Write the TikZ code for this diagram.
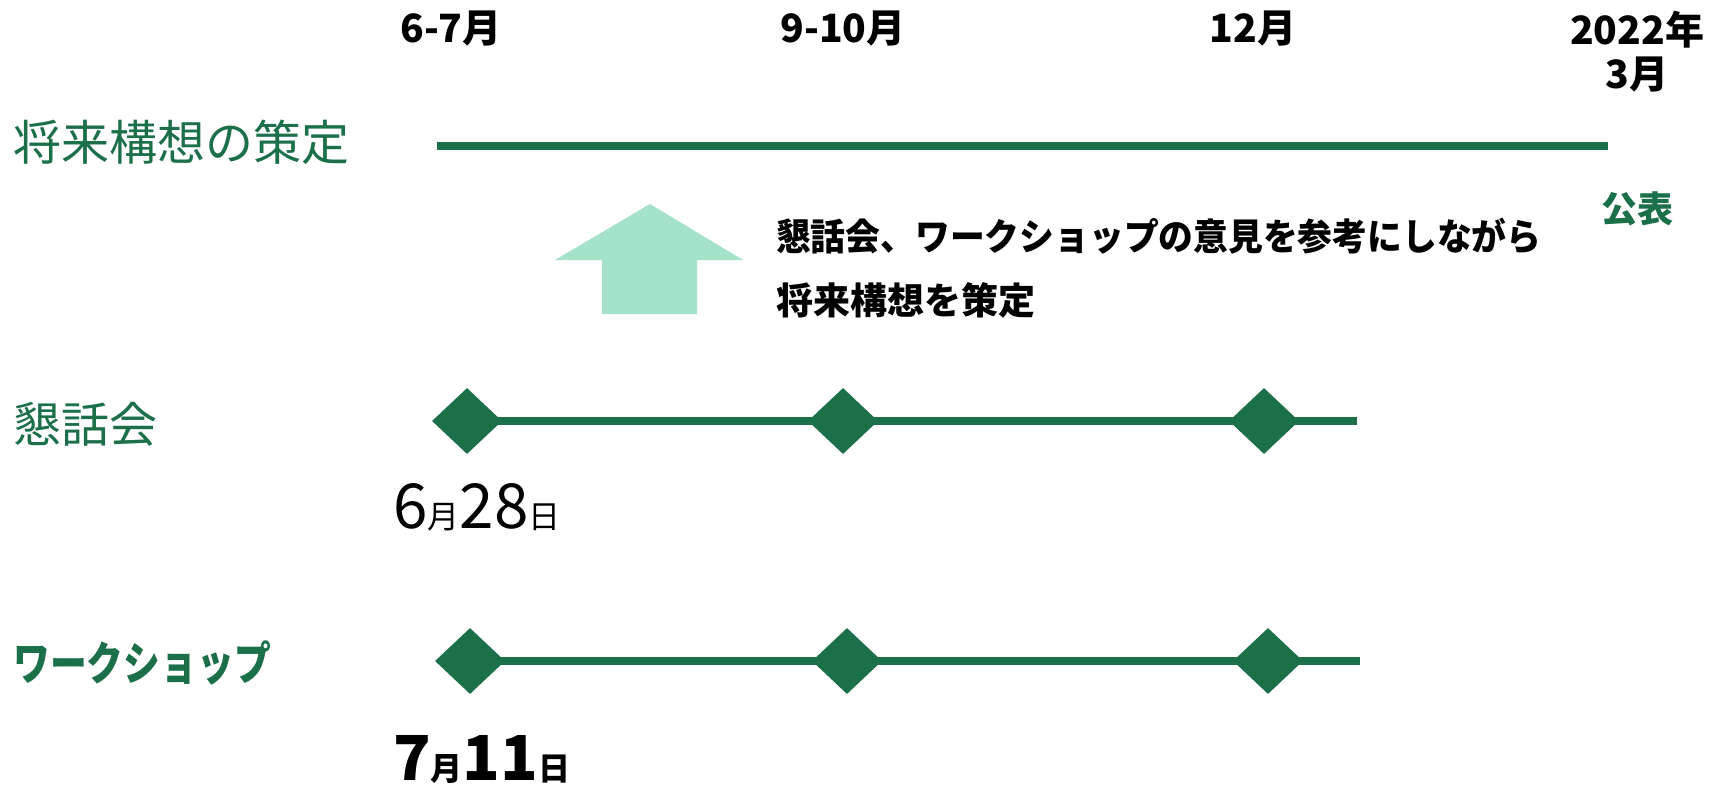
\documentclass[tikz,border=0pt]{standalone}
\usepackage{fontspec}
\usetikzlibrary{shapes.geometric}
\newfontfamily\jp{Noto Sans CJK JP}
\definecolor{gr}{RGB}{27,112,74}
\definecolor{lg}{RGB}{165,226,202}
\newcommand{\fs}[1]{\fontsize{#1pt}{#1pt}\selectfont}
\begin{document}
\begin{tikzpicture}[x=1pt,y=-1pt,
  gline/.style={draw=gr, line width=8pt},
  milestone/.style={diamond, fill=gr, inner sep=0pt, minimum width=70pt, minimum height=66pt},
  month/.style={inner sep=0pt, font=\jp\bfseries\fs{39}, align=center},
  rowlabel/.style={anchor=west, inner sep=0pt, text=gr, font=\jp\fs{48}},
  note/.style={anchor=west, inner sep=0pt, font=\jp\bfseries\fs{37}},
  datelabel/.style={anchor=base west, inner sep=0pt}]
\useasboundingbox (0,0) rectangle (1723,784);
\fill[white] (0,0) rectangle (1723,784);

% month headers
\node[month] (m1) at (451,29) {6-7月};
\node[month] (m2) at (843,29) {9-10月};
\node[month] (m3) at (1253,29) {12月};
\node[month] (m4) at (1637,30) {2022年};
\node[month] (m5) at (1637,75) {3月};

% row labels
\node[rowlabel] (l1) at (13,142) {将来構想の策定};
\node[rowlabel] (l2) at (13,424) {懇話会};
\node[rowlabel, font=\jp\bfseries\fs{46}] (l3) at (13,663) {\scalebox{0.8}[1]{ワークショップ}};

% top line
\coordinate (p0) at (437,146);
\coordinate (p1) at (1608,146);
\draw[gline] (p0) -- (p1);
\node[inner sep=0pt, text=gr, font=\jp\bfseries\fs{36}] (pub) at (1637,209) {公表};

% arrow
\fill[lg] (602,314) -- (602,260) -- (555,260) -- (650,204) -- (743,260) -- (697,260) -- (697,314) -- cycle;

% note
\node[note] (n1) at (776,236) {\scalebox{0.94}[1]{懇話会、ワークショップの意見を参考にしながら}};
\node[note] (n2) at (776,300) {将来構想を策定};

% row 1
\node[milestone] (k1) at (467,421) {};
\node[milestone] (k2) at (843,421) {};
\node[milestone] (k3) at (1264,421) {};
\coordinate (k4) at (1357,421);
\draw[gline] (k1.center) -- (k2.center) -- (k3.center) -- (k4);
\node[datelabel] (d1) at (393,528) {\jp\fs{62}6\fs{32}月\fs{62}28\fs{32}日};

% row 2
\node[milestone] (w1) at (470,661) {};
\node[milestone] (w2) at (847,661) {};
\node[milestone] (w3) at (1268,661) {};
\coordinate (w4) at (1360,661);
\draw[gline] (w1.center) -- (w2.center) -- (w3.center) -- (w4);
\node[datelabel] (d2) at (393,780) {\jp\bfseries\fs{62}7\fs{32}月\fs{62}11\fs{32}日};
\end{tikzpicture}
\end{document}
